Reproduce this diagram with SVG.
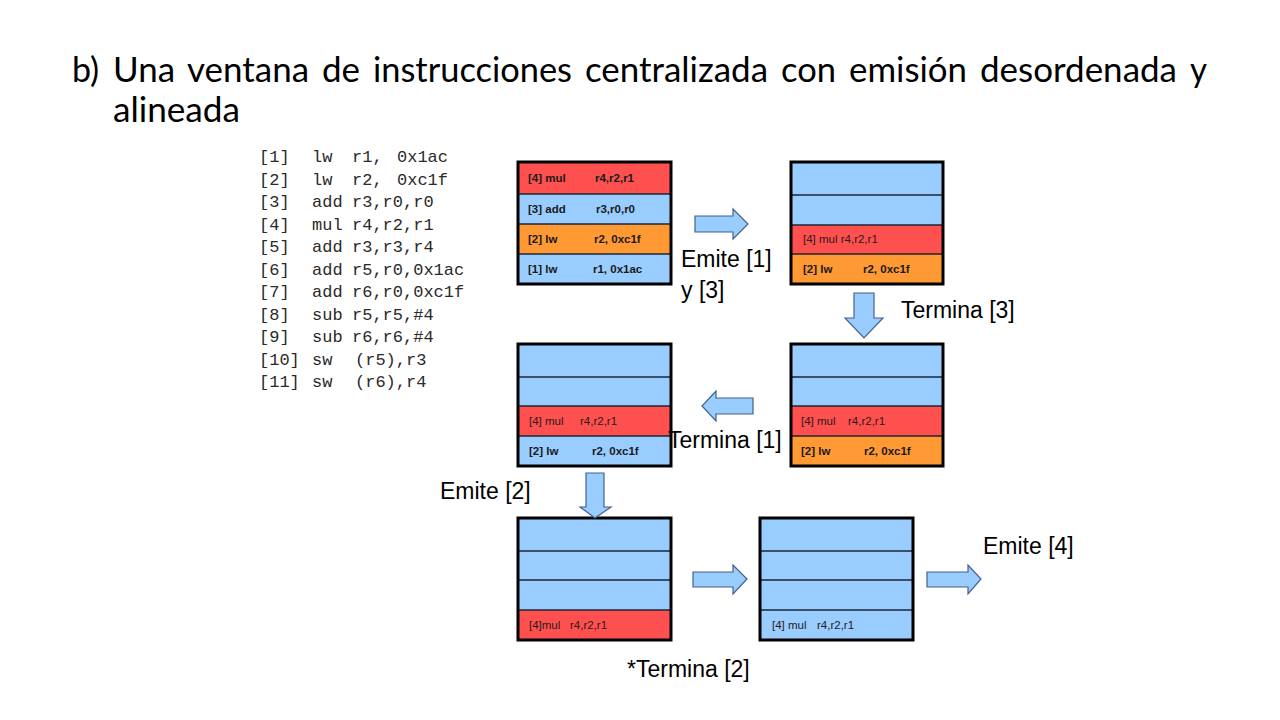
<svg xmlns="http://www.w3.org/2000/svg" width="1280" height="720" viewBox="0 0 1280 720">
<style>
.title{font-family:Lato,"Open Sans",sans-serif;font-size:34px;fill:#000}
.code{font-family:"Liberation Mono","DejaVu Sans Mono",monospace;font-size:17px;fill:#2a2a2a}
.lbl{font-family:"Liberation Sans",Arial,sans-serif;font-size:23px;fill:#000}
.bt{font-family:"Liberation Sans",Arial,sans-serif;font-size:11.5px;font-weight:bold;fill:#1a1a1a}
.nt{font-family:"Liberation Sans",Arial,sans-serif;font-size:11.5px;fill:#2a1a1a}
.red{fill:#ff5050}
.blue{fill:#99ccff}
.org{fill:#ff9933}
.sep{stroke:#1c2633;stroke-width:1.5}
.frame{fill:none;stroke:#000;stroke-width:3}
.arr{fill:#99ccff;stroke:#44618a;stroke-width:1.2}
</style>
<rect width="1280" height="720" fill="#fff"/>
<g id="title">
<text class="title" x="72" y="82">b)</text>
<text class="title" x="113" y="82" textLength="62" lengthAdjust="spacingAndGlyphs">Una</text>
<text class="title" x="187" y="82" textLength="122" lengthAdjust="spacingAndGlyphs">ventana</text>
<text class="title" x="322" y="82" textLength="38" lengthAdjust="spacingAndGlyphs">de</text>
<text class="title" x="373" y="82" textLength="199" lengthAdjust="spacingAndGlyphs">instrucciones</text>
<text class="title" x="585" y="82" textLength="183" lengthAdjust="spacingAndGlyphs">centralizada</text>
<text class="title" x="781" y="82" textLength="55" lengthAdjust="spacingAndGlyphs">con</text>
<text class="title" x="849" y="82" textLength="118" lengthAdjust="spacingAndGlyphs">emisión</text>
<text class="title" x="980" y="82" textLength="197" lengthAdjust="spacingAndGlyphs">desordenada</text>
<text class="title" x="1190" y="82" textLength="17" lengthAdjust="spacingAndGlyphs">y</text>
<text class="title" x="113" y="122" textLength="127" lengthAdjust="spacingAndGlyphs">alineada</text>
</g>
<g id="code">
<text class="code" x="259" y="162">[1]</text><text class="code" x="312" y="162">lw</text><text class="code" x="352" y="162">r1,</text><text class="code" x="397" y="162">0x1ac</text>
<text class="code" x="259" y="184.5">[2]</text><text class="code" x="312" y="184.5">lw</text><text class="code" x="352" y="184.5">r2,</text><text class="code" x="397" y="184.5">0xc1f</text>
<text class="code" x="259" y="207">[3]</text><text class="code" x="312" y="207">add</text><text class="code" x="352" y="207">r3,r0,r0</text>
<text class="code" x="259" y="229.5">[4]</text><text class="code" x="312" y="229.5">mul</text><text class="code" x="352" y="229.5">r4,r2,r1</text>
<text class="code" x="259" y="252">[5]</text><text class="code" x="312" y="252">add</text><text class="code" x="352" y="252">r3,r3,r4</text>
<text class="code" x="259" y="274.5">[6]</text><text class="code" x="312" y="274.5">add</text><text class="code" x="352" y="274.5">r5,r0,0x1ac</text>
<text class="code" x="259" y="297">[7]</text><text class="code" x="312" y="297">add</text><text class="code" x="352" y="297">r6,r0,0xc1f</text>
<text class="code" x="259" y="319.5">[8]</text><text class="code" x="312" y="319.5">sub</text><text class="code" x="352" y="319.5">r5,r5,#4</text>
<text class="code" x="259" y="342">[9]</text><text class="code" x="312" y="342">sub</text><text class="code" x="352" y="342">r6,r6,#4</text>
<text class="code" x="259" y="364.5">[10]</text><text class="code" x="312" y="364.5">sw</text><text class="code" x="355" y="364.5">(r5),r3</text>
<text class="code" x="259" y="387">[11]</text><text class="code" x="312" y="387">sw</text><text class="code" x="355" y="387">(r6),r4</text>
</g>
<g id="box1">
<rect class="red" x="518" y="162" width="153" height="32"/>
<rect class="blue" x="518" y="194" width="153" height="30"/>
<rect class="org" x="518" y="224" width="153" height="30"/>
<rect class="blue" x="518" y="254" width="153" height="30"/>
<line class="sep" x1="518" y1="194" x2="671" y2="194"/>
<line class="sep" x1="518" y1="224" x2="671" y2="224"/>
<line class="sep" x1="518" y1="254" x2="671" y2="254"/>
<rect class="frame" x="518" y="162" width="153" height="122"/>
<text class="bt" x="528" y="182">[4] mul</text><text class="bt" x="595" y="182">r4,r2,r1</text>
<text class="bt" x="528" y="213">[3] add</text><text class="bt" x="596" y="213">r3,r0,r0</text>
<text class="bt" x="528" y="243">[2] lw</text><text class="bt" x="594" y="243">r2, 0xc1f</text>
<text class="bt" x="528" y="273">[1] lw</text><text class="bt" x="593" y="273">r1, 0x1ac</text>
</g>
<g id="box2">
<rect class="blue" x="791" y="162" width="152" height="33"/>
<rect class="blue" x="791" y="195" width="152" height="30"/>
<rect class="red" x="791" y="225" width="152" height="29"/>
<rect class="org" x="791" y="254" width="152" height="30"/>
<line class="sep" x1="791" y1="195" x2="943" y2="195"/>
<line class="sep" x1="791" y1="225" x2="943" y2="225"/>
<line class="sep" x1="791" y1="254" x2="943" y2="254"/>
<rect class="frame" x="791" y="162" width="152" height="122"/>
<text class="nt" x="803" y="243">[4] mul r4,r2,r1</text>
<text class="bt" x="803" y="273">[2] lw</text><text class="bt" x="863" y="273">r2, 0xc1f</text>
</g>
<g id="box3">
<rect class="blue" x="518" y="344" width="153" height="33"/>
<rect class="blue" x="518" y="377" width="153" height="29"/>
<rect class="red" x="518" y="406" width="153" height="30"/>
<rect class="blue" x="518" y="436" width="153" height="30"/>
<line class="sep" x1="518" y1="377" x2="671" y2="377"/>
<line class="sep" x1="518" y1="406" x2="671" y2="406"/>
<line class="sep" x1="518" y1="436" x2="671" y2="436"/>
<rect class="frame" x="518" y="344" width="153" height="122"/>
<text class="nt" x="529" y="425">[4] mul</text><text class="nt" x="580" y="425">r4,r2,r1</text>
<text class="bt" x="529" y="455">[2] lw</text><text class="bt" x="592" y="455">r2, 0xc1f</text>
</g>
<g id="box4">
<rect class="blue" x="791" y="344" width="152" height="33"/>
<rect class="blue" x="791" y="377" width="152" height="29"/>
<rect class="red" x="791" y="406" width="152" height="30"/>
<rect class="org" x="791" y="436" width="152" height="30"/>
<line class="sep" x1="791" y1="377" x2="943" y2="377"/>
<line class="sep" x1="791" y1="406" x2="943" y2="406"/>
<line class="sep" x1="791" y1="436" x2="943" y2="436"/>
<rect class="frame" x="791" y="344" width="152" height="122"/>
<text class="nt" x="801" y="425">[4] mul</text><text class="nt" x="848" y="425">r4,r2,r1</text>
<text class="bt" x="801" y="455">[2] lw</text><text class="bt" x="864" y="455">r2, 0xc1f</text>
</g>
<g id="box5">
<rect class="blue" x="518" y="518" width="153" height="92"/>
<rect class="red" x="518" y="610" width="153" height="30"/>
<line class="sep" x1="518" y1="551" x2="671" y2="551"/>
<line class="sep" x1="518" y1="580" x2="671" y2="580"/>
<line class="sep" x1="518" y1="610" x2="671" y2="610"/>
<rect class="frame" x="518" y="518" width="153" height="122"/>
<text class="nt" x="529" y="629">[4]mul</text><text class="nt" x="570" y="629">r4,r2,r1</text>
</g>
<g id="box6">
<rect class="blue" x="760" y="518" width="153" height="122"/>
<line class="sep" x1="760" y1="551" x2="913" y2="551"/>
<line class="sep" x1="760" y1="580" x2="913" y2="580"/>
<line class="sep" x1="760" y1="610" x2="913" y2="610"/>
<rect class="frame" x="760" y="518" width="153" height="122"/>
<text class="nt" x="772" y="629">[4] mul</text><text class="nt" x="817" y="629">r4,r2,r1</text>
</g>
<g id="connectors">
<path class="arr" d="M695,216 H733 V209 L748,224 L733,239 V232 H695 Z"/>
<path class="arr" d="M854,293 V318 H845 L864,338 L883,318 H874 V293 Z"/>
<path class="arr" d="M753,398 H716 V391 L702,406 L716,421 V414 H753 Z"/>
<path class="arr" d="M586,473 V507 H580 L595,518 L611,507 H604 V473 Z"/>
<path class="arr" d="M693,572 H733 V565 L747,579 L733,594 V587 H693 Z"/>
<path class="arr" d="M927,572 H968 V565 L981,579 L968,594 V587 H927 Z"/>
</g>
<g id="labels">
<text class="lbl" x="681" y="267">Emite [1]</text>
<text class="lbl" x="681" y="298">y [3]</text>
<text class="lbl" x="901" y="318">Termina [3]</text>
<text class="lbl" x="668" y="448">Termina [1]</text>
<text class="lbl" x="440" y="499">Emite [2]</text>
<text class="lbl" x="983" y="554">Emite [4]</text>
<text class="lbl" x="627" y="677">*Termina [2]</text>
</g>
</svg>
